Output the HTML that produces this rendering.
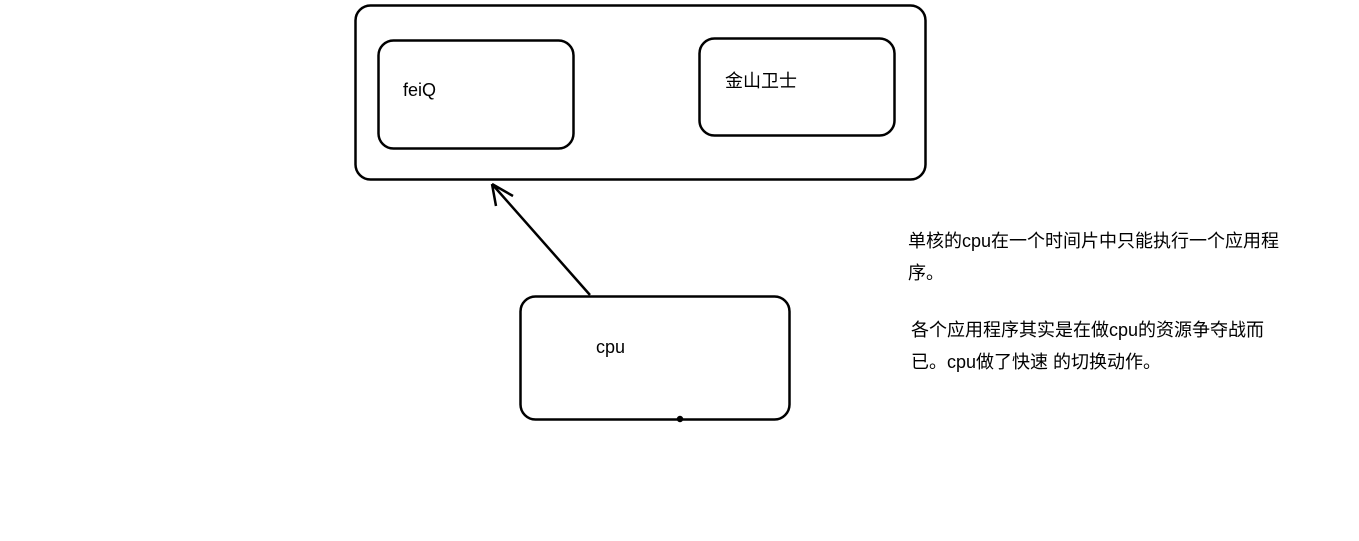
<!DOCTYPE html>
<html><head><meta charset="utf-8"><style>
body{margin:0;width:1359px;height:541px;background:#fff;position:relative;overflow:hidden;font-family:"Liberation Sans","Noto Sans CJK SC",sans-serif;color:#000}
.t{position:absolute;font-size:18px;white-space:nowrap;line-height:20px}
</style></head><body>
<svg width="1359" height="541" style="position:absolute;left:0;top:0" fill="none" stroke="#000" stroke-width="2.5">
<rect x="355.5" y="5.5" width="570" height="174" rx="15"/>
<rect x="378.5" y="40.5" width="195" height="108" rx="15"/>
<rect x="699.5" y="38.5" width="195" height="97" rx="15"/>
<rect x="520.5" y="296.5" width="269" height="123" rx="15"/>
<path d="M590 295 L492 184 M492 184 L496 206 M492 184 L513 196"/>
<circle cx="680" cy="419" r="2" fill="#000"/>
</svg>
<div class="t" style="left:403px;top:80px">feiQ</div>
<div class="t" style="left:725px;top:71px">金山卫士</div>
<div class="t" style="left:596px;top:337px">cpu</div>
<div class="t" style="left:908px;top:231px">单核的cpu在一个时间片中只能执行一个应用程</div>
<div class="t" style="left:908px;top:263px">序。</div>
<div class="t" style="left:911px;top:320px">各个应用程序其实是在做cpu的资源争夺战而</div>
<div class="t" style="left:911px;top:352px">已。cpu做了快速 的切换动作。</div>
</body></html>
